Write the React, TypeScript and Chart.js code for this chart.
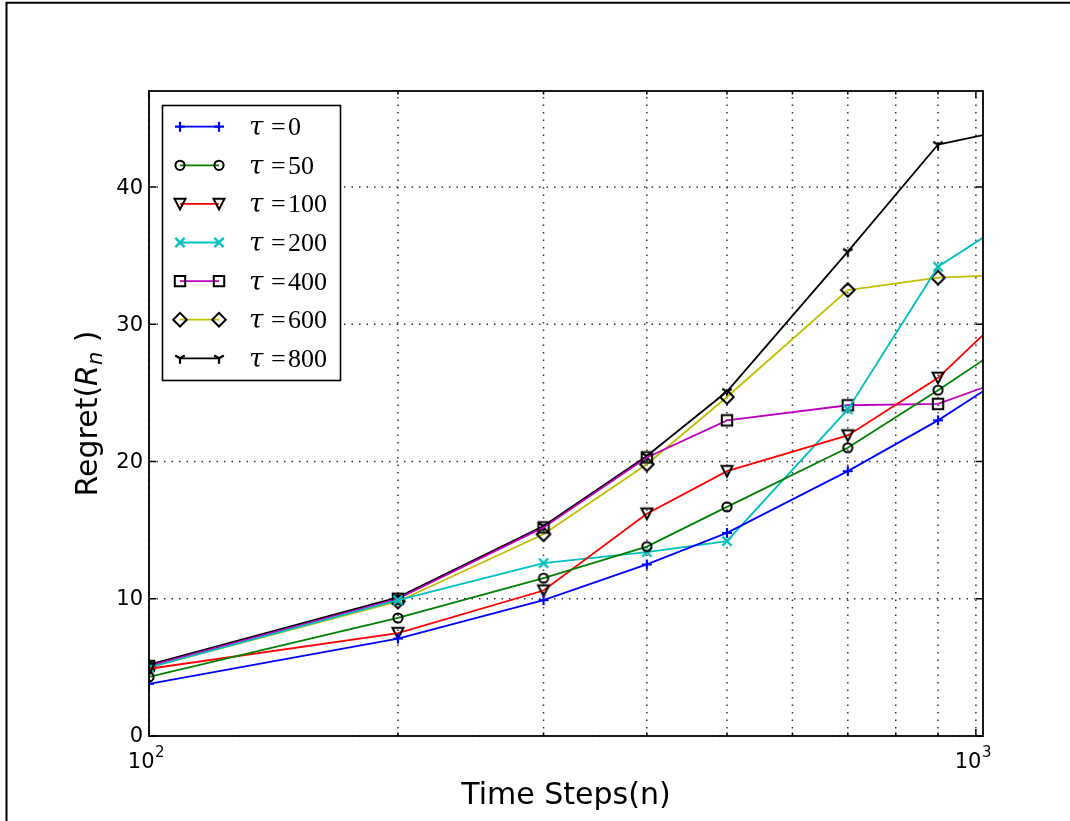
import React, { useEffect, useRef } from 'react';
import { Chart, registerables } from 'chart.js';

Chart.register(...registerables);

// ---- data ----
const steps = [100, 200, 300, 400, 500, 700, 900, 1100];
const tau0 = [3.8, 7.1, 9.9, 12.5, 14.8, 19.3, 23.0, 26.4];
const tau50 = [4.3, 8.6, 11.5, 13.8, 16.7, 21.0, 25.2, 28.7];
const tau100 = [4.9, 7.5, 10.6, 16.2, 19.3, 21.9, 26.1, 31.1];
const tau200 = [5.0, 9.9, 12.6, 13.4, 14.2, 23.8, 34.2, 37.6];
const tau400 = [5.1, 10.0, 15.2, 20.3, 23.0, 24.1, 24.2, 26.1];
const tau600 = [5.0, 9.8, 14.7, 19.8, 24.7, 32.5, 33.4, 33.6];
const tau800 = [5.2, 10.1, 15.3, 20.4, 25.1, 35.3, 43.1, 44.2];

const tauLabels = ['0', '50', '100', '200', '400', '600', '800'];
const seriesValues = [tau0, tau50, tau100, tau200, tau400, tau600, tau800];
const seriesColors = ['#0000ff', '#008000', '#ff0000', '#00bfbf', '#bf00bf', '#bfbf00', '#000000'];
const seriesMarkers = ['plus', 'circle', 'triDown', 'x', 'square', 'diamond', 'tri'];

const yTicks = [0, 10, 20, 30, 40];
const xMajorTicks = [100, 1000];
const xMajorExponents = ['2', '3'];
const xMinorTicks = [200, 300, 400, 500, 600, 700, 800, 900];

const X_MIN = 100;
const X_MAX = 1020;
const Y_MIN = 0;
const Y_MAX = 47;

function drawMarker(ctx: CanvasRenderingContext2D, kind: string, x: number, y: number, color: string) {
  ctx.save();
  ctx.lineWidth = 2;
  ctx.strokeStyle = '#000';
  ctx.lineJoin = 'miter';
  ctx.lineCap = 'butt';
  ctx.beginPath();
  switch (kind) {
    case 'plus':
      ctx.strokeStyle = color;
      ctx.lineWidth = 2.2;
      ctx.moveTo(x - 5, y); ctx.lineTo(x + 5, y);
      ctx.moveTo(x, y - 5); ctx.lineTo(x, y + 5);
      break;
    case 'circle':
      ctx.arc(x, y, 4.6, 0, Math.PI * 2);
      break;
    case 'triDown':
      ctx.moveTo(x - 5.5, y - 5.2); ctx.lineTo(x + 5.5, y - 5.2); ctx.lineTo(x, y + 5.5); ctx.closePath();
      break;
    case 'x':
      ctx.strokeStyle = color;
      ctx.lineWidth = 2.2;
      ctx.moveTo(x - 4.6, y - 4.6); ctx.lineTo(x + 4.6, y + 4.6);
      ctx.moveTo(x - 4.6, y + 4.6); ctx.lineTo(x + 4.6, y - 4.6);
      break;
    case 'square':
      ctx.rect(x - 5.2, y - 5.2, 10.4, 10.4);
      break;
    case 'diamond':
      ctx.moveTo(x, y - 6.8); ctx.lineTo(x + 6.8, y); ctx.lineTo(x, y + 6.8); ctx.lineTo(x - 6.8, y); ctx.closePath();
      break;
    case 'tri':
      ctx.lineWidth = 2.2;
      ctx.moveTo(x, y); ctx.lineTo(x, y + 5.5);
      ctx.moveTo(x, y); ctx.lineTo(x - 4.8, y - 2.8);
      ctx.moveTo(x, y); ctx.lineTo(x + 4.8, y - 2.8);
      break;
  }
  ctx.stroke();
  ctx.restore();
}

function makeMarker(kind: string, color: string): HTMLCanvasElement {
  const c = document.createElement('canvas');
  c.width = 20;
  c.height = 20;
  const ctx = c.getContext('2d')!;
  drawMarker(ctx, kind, 10, 10, color);
  return c;
}

const decorPlugin = {
  id: 'decor',
  beforeDatasetsDraw(chart: any) {
    const { ctx, chartArea: a, scales } = chart;
    const xs = scales.x;
    const ys = scales.y;
    ctx.save();
    ctx.strokeStyle = '#333';
    ctx.lineWidth = 1.5;
    ctx.setLineDash([1.5, 6]);
    for (const v of yTicks) {
      const py = ys.getPixelForValue(v);
      ctx.beginPath();
      ctx.moveTo(a.left, py);
      ctx.lineTo(a.right, py);
      ctx.stroke();
    }
    for (const v of [...xMinorTicks, ...xMajorTicks]) {
      const px = xs.getPixelForValue(v);
      ctx.beginPath();
      ctx.moveTo(px, a.bottom);
      ctx.lineTo(px, a.top);
      ctx.stroke();
    }
    ctx.restore();
  },
  afterDatasetsDraw(chart: any) {
    const { ctx, chartArea: a, scales } = chart;
    const xs = scales.x;
    const ys = scales.y;
    ctx.save();
    // ticks (inside)
    ctx.strokeStyle = '#000';
    ctx.lineWidth = 1.5;
    ctx.beginPath();
    for (const v of yTicks) {
      const py = ys.getPixelForValue(v);
      ctx.moveTo(a.left, py); ctx.lineTo(a.left + 7, py);
      ctx.moveTo(a.right, py); ctx.lineTo(a.right - 7, py);
    }
    for (const v of xMajorTicks) {
      const px = xs.getPixelForValue(v);
      ctx.moveTo(px, a.bottom); ctx.lineTo(px, a.bottom - 7);
      ctx.moveTo(px, a.top); ctx.lineTo(px, a.top + 7);
    }
    for (const v of xMinorTicks) {
      const px = xs.getPixelForValue(v);
      ctx.moveTo(px, a.bottom); ctx.lineTo(px, a.bottom - 3.5);
      ctx.moveTo(px, a.top); ctx.lineTo(px, a.top + 3.5);
    }
    ctx.stroke();
    // spines
    ctx.lineWidth = 1.8;
    ctx.strokeRect(a.left, a.top, a.right - a.left, a.bottom - a.top);

    // y tick labels
    ctx.fillStyle = '#000';
    ctx.font = '21px "DejaVu Sans"';
    ctx.textAlign = 'right';
    ctx.textBaseline = 'middle';
    for (const v of yTicks) {
      ctx.fillText(String(v), a.left - 6, ys.getPixelForValue(v) + 1);
    }
    // x tick labels 10^k
    ctx.textBaseline = 'alphabetic';
    ctx.textAlign = 'left';
    xMajorTicks.forEach((v, i) => {
      const px = xs.getPixelForValue(v);
      ctx.font = '21px "DejaVu Sans"';
      const w1 = ctx.measureText('10').width;
      ctx.font = '15px "DejaVu Sans"';
      const w2 = ctx.measureText(xMajorExponents[i]).width;
      const left = px - 3 - (w1 + w2) / 2;
      ctx.font = '21px "DejaVu Sans"';
      ctx.fillText('10', left, 768);
      ctx.font = '15px "DejaVu Sans"';
      ctx.fillText(xMajorExponents[i], left + w1 + 0.5, 757);
    });

    // x axis title
    ctx.font = '30px "DejaVu Sans"';
    ctx.textAlign = 'center';
    ctx.fillText('Time Steps(n)', (a.left + a.right) / 2, 804);

    // y axis title: Regret(R_n )
    ctx.save();
    ctx.translate(97, (a.top + a.bottom) / 2);
    ctx.rotate(-Math.PI / 2);
    ctx.textAlign = 'left';
    const fMain = '30px "DejaVu Sans"';
    const fIt = 'oblique 30px "DejaVu Sans"';
    const fSub = 'oblique 21px "DejaVu Sans"';
    ctx.font = fMain; const wA = ctx.measureText('Regret(').width;
    ctx.font = fIt; const wR = ctx.measureText('R').width;
    ctx.font = fSub; const wn = ctx.measureText('n').width;
    ctx.font = fMain; const wB = ctx.measureText(' )').width;
    let cx = -(wA + wR + wn + wB) / 2;
    ctx.font = fMain; ctx.fillText('Regret(', cx, 0); cx += wA;
    ctx.font = fIt; ctx.fillText('R', cx, 0); cx += wR;
    ctx.font = fSub; ctx.fillText('n', cx, 5); cx += wn;
    ctx.font = fMain; ctx.fillText(' )', cx, 0);
    ctx.restore();

    // legend
    const lx = 162.5, ly = 105.5, lw = 178, lh = 275;
    ctx.fillStyle = '#fff';
    ctx.fillRect(lx, ly, lw, lh);
    ctx.strokeStyle = '#000';
    ctx.lineWidth = 1.6;
    ctx.strokeRect(lx, ly, lw, lh);
    for (let i = 0; i < tauLabels.length; i++) {
      const ry = 126.7 + 38.6 * i;
      ctx.strokeStyle = seriesColors[i];
      ctx.lineWidth = 1.8;
      ctx.beginPath();
      ctx.moveTo(180, ry);
      ctx.lineTo(219, ry);
      ctx.stroke();
      drawMarker(ctx, seriesMarkers[i], 180, ry, seriesColors[i]);
      drawMarker(ctx, seriesMarkers[i], 219, ry, seriesColors[i]);
      ctx.fillStyle = '#000';
      ctx.textAlign = 'left';
      ctx.textBaseline = 'alphabetic';
      ctx.font = 'italic 26px "DejaVu Serif"';
      ctx.fillText('\u03c4', 249, ry + 8.5);
      ctx.font = '26px "Liberation Serif"';
      ctx.fillText('=', 271, ry + 8.5);
      ctx.fillText(tauLabels[i], 288, ry + 8.5);
    }

    // figure frame (top and left edges)
    ctx.strokeStyle = '#000';
    ctx.lineWidth = 2;
    ctx.beginPath();
    ctx.moveTo(6.5, chart.height);
    ctx.lineTo(6.5, 2.7);
    ctx.lineTo(chart.width, 2.7);
    ctx.stroke();
    ctx.restore();
  },
};

export default function App() {
  const ref = useRef<HTMLCanvasElement | null>(null);
  useEffect(() => {
    document.body.style.margin = '0';
    const canvas = ref.current!;
    const datasets = seriesValues.map((vals, i) => ({
      label: 'tau=' + tauLabels[i],
      data: steps.map((s, j) => ({ x: s, y: vals[j] })),
      borderColor: seriesColors[i],
      backgroundColor: seriesColors[i],
      borderWidth: 1.8,
      pointStyle: makeMarker(seriesMarkers[i], seriesColors[i]) as any,
      pointRadius: 5,
      fill: false,
      tension: 0,
      clip: 0,
    }));
    const chart = new Chart(canvas, {
      type: 'line',
      data: { datasets },
      options: {
        animation: false,
        responsive: false,
        maintainAspectRatio: false,
        parsing: false as any,
        layout: { padding: { left: 0, top: 91, right: 87, bottom: 0 } },
        plugins: { legend: { display: false }, tooltip: { enabled: false } },
        events: [],
        scales: {
          x: {
            type: 'logarithmic',
            min: X_MIN,
            max: X_MAX,
            ticks: { display: false },
            grid: { display: false },
            border: { display: false },
            afterFit: (s: any) => { s.height = 85; },
          },
          y: {
            type: 'linear',
            min: Y_MIN,
            max: Y_MAX,
            ticks: { display: false },
            grid: { display: false },
            border: { display: false },
            afterFit: (s: any) => { s.width = 149; },
          },
        },
      },
      plugins: [decorPlugin],
    });
    return () => chart.destroy();
  }, []);
  return (
    <div style={{ position: 'relative', width: 1070, height: 821, background: '#fff' }}>
      <canvas ref={ref} width={1070} height={821} style={{ display: 'block', width: 1070, height: 821 }} />
    </div>
  );
}
